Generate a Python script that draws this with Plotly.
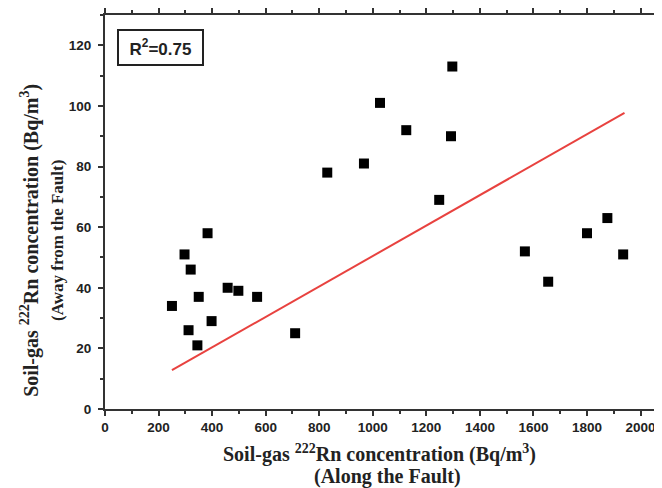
import plotly.graph_objects as go

# Data
x_along = [250, 297, 320, 312, 345, 350, 383, 398, 458, 498, 568, 710,
           830, 967, 1027, 1125, 1248, 1292, 1297, 1568, 1655, 1800, 1876, 1935]
y_away = [34, 51, 46, 26, 21, 37, 58, 29, 40, 39, 37, 25,
          78, 81, 101, 92, 69, 90, 113, 52, 42, 58, 63, 51]
fit_x = [250, 1940]
fit_y = [12.8, 97.7]
r2_label = "R<sup>2</sup>=0.75"
x_title = ["Soil-gas <sup>222</sup>Rn concentration (Bq/m<sup>3</sup>)", "(Along the Fault)"]
y_title = ["Soil-gas <sup>222</sup>Rn concentration (Bq/m<sup>3</sup>)", "(Away from the Fault)"]
x_ticks = list(range(0, 2001, 200))
y_ticks = list(range(0, 121, 20))

fig = go.Figure()
fig.add_trace(go.Scatter(x=fit_x, y=fit_y, mode="lines",
                         line=dict(color="#e8423f", width=2), showlegend=False))
fig.add_trace(go.Scatter(x=x_along, y=y_away, mode="markers",
                         marker=dict(symbol="square", size=10, color="black"),
                         showlegend=False))

tick_font = dict(family="Liberation Sans, Arial", size=13.5, color="#222")
serif = "Liberation Serif, Times New Roman"

fig.update_layout(
    width=654, height=480,
    margin=dict(l=97, r=0, t=5, b=79),
    paper_bgcolor="white", plot_bgcolor="white",
    xaxis=dict(range=[0, 2080], tickmode="array",
               tickvals=x_ticks, ticktext=["<b>%d</b>" % v for v in x_ticks],
               ticks="outside", ticklen=5, tickwidth=1.5, tickcolor="#333",
               showline=True, linecolor="#333", linewidth=2, mirror="ticks",
               showgrid=False, zeroline=False, tickfont=tick_font,
               minor=dict(dtick=100, tick0=0, ticks="outside", ticklen=3,
                          tickcolor="#333", showgrid=False)),
    yaxis=dict(range=[0, 130], tickmode="array",
               tickvals=y_ticks, ticktext=["<b>%d</b>" % v for v in y_ticks],
               ticks="outside", ticklen=5, tickwidth=1.5, tickcolor="#333",
               ticklabelstandoff=4,
               showline=True, linecolor="#333", linewidth=2, mirror=False,
               showgrid=False, zeroline=False, tickfont=tick_font,
               minor=dict(dtick=10, tick0=0, ticks="outside", ticklen=3,
                          tickcolor="#333", showgrid=False)),
    annotations=[
        dict(text="<b>" + r2_label + "</b>", xref="paper", yref="paper",
             x=0.0215, y=0.9646, xanchor="left", yanchor="top",
             showarrow=False, bordercolor="#222", borderwidth=2,
             width=81, height=31, bgcolor="white",
             font=dict(family="Liberation Sans, Arial", size=17, color="#222")),
        dict(text="<b>" + x_title[0] + "</b>", xref="paper", yref="paper",
             x=0.4937, y=-0.1136, xanchor="center", yanchor="middle",
             showarrow=False, font=dict(family=serif, size=20, color="#222")),
        dict(text="<b>" + x_title[1] + "</b>", xref="paper", yref="paper",
             x=0.508, y=-0.172, xanchor="center", yanchor="middle",
             showarrow=False, font=dict(family=serif, size=20, color="#222")),
        dict(text="<b>" + y_title[0] + "</b>", xref="paper", yref="paper",
             x=-0.1346, y=0.4268, textangle=-90, xanchor="center", yanchor="middle",
             showarrow=False, font=dict(family=serif, size=20, color="#222")),
        dict(text="<b>" + y_title[1] + "</b>", xref="paper", yref="paper",
             x=-0.0844, y=0.429, textangle=-90, xanchor="center", yanchor="middle",
             showarrow=False, font=dict(family=serif, size=17, color="#222")),
    ],
)

fig.write_html("out.html")
